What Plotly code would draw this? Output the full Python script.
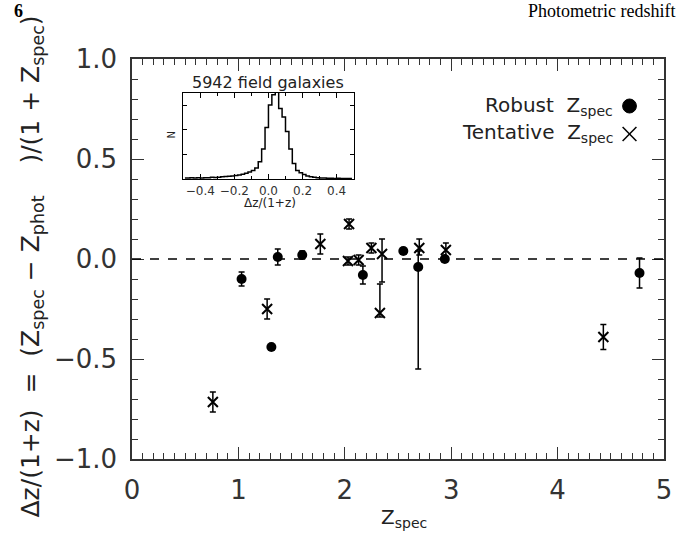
"""
Photometric redshift accuracy: dz/(1+z) vs spectroscopic redshift,
with an inset histogram of the field galaxy sample.
"""
import plotly.graph_objects as go

# ---- robust spectroscopic redshifts (filled circles)
robust_z = [1.03, 1.31, 1.37, 1.60, 2.17, 2.55, 2.69, 2.94, 4.77]
robust_dz = [-0.10, -0.44, 0.01, 0.02, -0.08, 0.04, -0.04, 0.00, -0.07]
robust_err_hi = [0.035, 0.01, 0.04, 0.02, 0.045, 0.015, 0.08, 0.015, 0.075]
robust_err_lo = [0.035, 0.01, 0.04, 0.02, 0.045, 0.015, 0.51, 0.015, 0.075]

# ---- tentative spectroscopic redshifts (crosses)
tent_z = [0.76, 1.27, 1.77, 2.03, 2.04, 2.13, 2.25, 2.33, 2.35, 2.70, 2.95, 4.43]
tent_dz = [-0.715, -0.25, 0.075, -0.01, 0.175, -0.005, 0.055, -0.27, 0.025, 0.055, 0.045, -0.39]
tent_err_hi = [0.05, 0.05, 0.05, 0.02, 0.025, 0.025, 0.025, 0.145, 0.075, 0.045, 0.035, 0.0625]
tent_err_lo = [0.05, 0.05, 0.05, 0.02, 0.025, 0.025, 0.025, 0.02, 0.14, 0.035, 0.035, 0.0625]

# ---- inset histogram: 5942 field galaxies, bins of 0.02 in dz/(1+z)
hist_centers = [-0.49, -0.47, -0.45, -0.43, -0.41, -0.39, -0.37, -0.35, -0.33, -0.31,
                -0.29, -0.27, -0.25, -0.23, -0.21, -0.19, -0.17, -0.15, -0.13, -0.11,
                -0.09, -0.07, -0.05, -0.03, -0.01, 0.01, 0.03, 0.05, 0.07, 0.09,
                0.11, 0.13, 0.15, 0.17, 0.19, 0.21, 0.23, 0.25, 0.27, 0.29,
                0.31, 0.33, 0.35, 0.37, 0.39, 0.41, 0.43, 0.45, 0.47, 0.49]
hist_counts = [4, 4, 5, 4, 5, 4, 5, 5, 7, 6,
               7, 9, 10, 11, 12, 14, 16, 19, 23, 28,
               35, 45, 70, 122, 210, 301, 343, 368, 287, 252,
               193, 122, 63, 35, 25, 18, 12, 9, 7, 5,
               4, 4, 3, 3, 2, 3, 2, 2, 2, 2]

x_ticks = [0, 1, 2, 3, 4, 5]
y_ticks = [-1.0, -0.5, 0.0, 0.5, 1.0]
inset_ticks = [-0.4, -0.2, 0.0, 0.2, 0.4]

INK = "#222222"
AXIS = "#333333"
FONT = "DejaVu Sans"


# helpers mapping reference pixel positions to paper coordinates of the main axes
def px(v):
    return (v - 132) / 540


def py(v):
    return (459 - v) / 400


fig = go.Figure()

fig.add_trace(go.Scatter(
    x=robust_z, y=robust_dz,
    mode="markers",
    marker=dict(symbol="circle", size=10, color="black"),
    error_y=dict(type="data", symmetric=False, array=robust_err_hi,
                 arrayminus=robust_err_lo, color="black", thickness=1.5, width=3),
    showlegend=False,
))

fig.add_trace(go.Scatter(
    x=tent_z, y=tent_dz,
    mode="markers",
    marker=dict(symbol="x-thin", size=10, color="black",
                line=dict(width=2, color="black")),
    error_y=dict(type="data", symmetric=False, array=tent_err_hi,
                 arrayminus=tent_err_lo, color="black", thickness=1.5, width=3),
    showlegend=False,
))

fig.add_hline(y=0, line=dict(color="black", width=1.4, dash="dash"))

# inset histogram
fig.add_trace(go.Scatter(
    x=hist_centers, y=hist_counts,
    mode="lines",
    line=dict(color="black", width=1.5, shape="hvh"),
    xaxis="x2", yaxis="y2",
    showlegend=False,
))

main_axis = dict(
    showgrid=False, zeroline=False,
    showline=True, linecolor=AXIS, linewidth=1.5, mirror="ticks",
    ticks="inside", ticklen=12, tickwidth=1.2, tickcolor=AXIS,
    minor=dict(ticks="inside", ticklen=6, tickwidth=1, tickcolor=AXIS, dtick=0.1),
    tickfont=dict(family=FONT, size=26, color="#333333"),
)

fig.update_layout(
    width=680, height=540,
    margin=dict(l=132, r=8, t=59, b=81),
    paper_bgcolor="white", plot_bgcolor="white",
    xaxis=dict(main_axis, range=[0, 5], tickvals=x_ticks, ticklabelstandoff=7),
    yaxis=dict(main_axis, range=[-1, 1], tickvals=y_ticks, tickformat=".1f",
               ticklabelstandoff=8),
    xaxis2=dict(
        domain=[px(184), px(357)], anchor="y2", range=[-0.5, 0.5],
        showgrid=False, zeroline=False,
        showline=True, linecolor="black", linewidth=1.2, mirror="ticks",
        ticks="inside", ticklen=5, tickcolor="black",
        minor=dict(ticks="inside", ticklen=3, tickcolor="black", dtick=0.1),
        tickvals=inset_ticks, tickformat=".1f", tickangle=0, ticklabelstandoff=0,
        tickfont=dict(family=FONT, size=12, color="#333333"),
    ),
    yaxis2=dict(
        domain=[py(179), py(93)], anchor="x2", range=[0, 350],
        showgrid=False, zeroline=False,
        showline=True, linecolor="black", linewidth=1.2, mirror="ticks",
        ticks="inside", ticklen=4, tickcolor="black",
        tickvals=[100, 200, 300], showticklabels=False,
    ),
)


def label(text, x, y, size, xanchor="center", yanchor="middle", angle=0,
          family=FONT, color=INK):
    return dict(text=text, x=px(x), y=py(y), xref="paper", yref="paper",
                xanchor=xanchor, yanchor=yanchor, textangle=angle, showarrow=False,
                font=dict(family=family, size=size, color=color))


annotations = [
    # axis titles
    label("Δz/(1+z)  =  (Z<sub>spec</sub> − Z<sub>phot</sub>    )/(1 + Z<sub>spec</sub>)",
          30, 267, 25, angle=-90),
    label("Z<sub>spec</sub>", 408, 518, 20),
    # inset texts
    label("5942 field galaxies", 270, 82, 16),
    label("Δz/(1+z)", 272, 203, 12),
    label("N", 173, 135, 10, angle=-90),
    # legend text
    label("Robust  Z<sub>spec</sub>", 622, 106, 20, xanchor="right"),
    label("Tentative  Z<sub>spec</sub>", 622, 133, 20, xanchor="right"),
    # page header
    label("<b>6</b>", 17, 11, 18, family="Liberation Serif", color="black"),
    label("Photometric redshift of", 532, 11, 18, xanchor="left",
          family="Liberation Serif", color="black"),
]
fig.update_layout(annotations=annotations)

# legend symbols drawn as shapes (filled circle and cross)
cx, r = px(637), 7
fig.add_shape(type="circle", xref="paper", yref="paper",
              x0=cx - r / 540, x1=cx + r / 540, y0=py(106) - r / 400, y1=py(106) + r / 400,
              fillcolor="black", line=dict(color="black", width=1))
for sgn in (1, -1):
    fig.add_shape(type="line", xref="paper", yref="paper",
                  x0=cx - 7 / 540, x1=cx + 7 / 540,
                  y0=py(134) - sgn * 7 / 400, y1=py(134) + sgn * 7 / 400,
                  line=dict(color="black", width=1.5))

# drop the default page margin so the figure sits at the window corner
fig.write_html("out.html", config={"displayModeBar": False},
               post_script="document.body.style.margin = '0';")
